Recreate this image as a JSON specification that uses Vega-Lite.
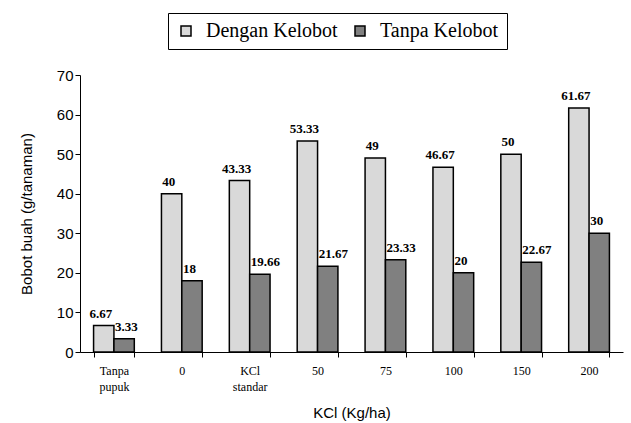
{
  "$schema": "https://vega.github.io/schema/vega-lite/v6.json",
  "width": 543,
  "height": 277,
  "autosize": {"type": "none"},
  "padding": {"left": 80, "top": 75, "right": 8, "bottom": 71},
  "background": "white",
  "config": {"view": {"stroke": null}},
  "data": {
    "values": [
      {"kcl": "Tanpa pupuk", "seri": "Dengan Kelobot", "bobot": 6.67, "label": "6.67"},
      {"kcl": "Tanpa pupuk", "seri": "Tanpa Kelobot", "bobot": 3.33, "label": "3.33"},
      {"kcl": "0", "seri": "Dengan Kelobot", "bobot": 40, "label": "40"},
      {"kcl": "0", "seri": "Tanpa Kelobot", "bobot": 18, "label": "18"},
      {"kcl": "KCl standar", "seri": "Dengan Kelobot", "bobot": 43.33, "label": "43.33"},
      {"kcl": "KCl standar", "seri": "Tanpa Kelobot", "bobot": 19.66, "label": "19.66"},
      {"kcl": "50", "seri": "Dengan Kelobot", "bobot": 53.33, "label": "53.33"},
      {"kcl": "50", "seri": "Tanpa Kelobot", "bobot": 21.67, "label": "21.67"},
      {"kcl": "75", "seri": "Dengan Kelobot", "bobot": 49, "label": "49"},
      {"kcl": "75", "seri": "Tanpa Kelobot", "bobot": 23.33, "label": "23.33"},
      {"kcl": "100", "seri": "Dengan Kelobot", "bobot": 46.67, "label": "46.67"},
      {"kcl": "100", "seri": "Tanpa Kelobot", "bobot": 20, "label": "20"},
      {"kcl": "150", "seri": "Dengan Kelobot", "bobot": 50, "label": "50"},
      {"kcl": "150", "seri": "Tanpa Kelobot", "bobot": 22.67, "label": "22.67"},
      {"kcl": "200", "seri": "Dengan Kelobot", "bobot": 61.67, "label": "61.67"},
      {"kcl": "200", "seri": "Tanpa Kelobot", "bobot": 30, "label": "30"}
    ]
  },
  "encoding": {
    "x": {
      "field": "kcl",
      "type": "nominal",
      "sort": null,
      "scale": {"paddingInner": 0.4, "paddingOuter": 0.2},
      "axis": {
        "title": "KCl (Kg/ha)",
        "titleFont": "Liberation Sans",
        "titleFontSize": 15,
        "titleFontWeight": "normal",
        "titleColor": "black",
        "titlePadding": 13,
        "labelAngle": 0,
        "labelFont": "Times New Roman, Liberation Serif, serif",
        "labelFontSize": 12,
        "labelColor": "black",
        "labelPadding": 8,
        "labelLineHeight": 16,
        "labelExpr": "isValid(datum.value) ? split(datum.value, ' ') : ''",
        "tickBand": "extent",
        "tickSize": 5,
        "tickColor": "black",
        "domainColor": "black",
        "grid": false
      }
    },
    "xOffset": {"field": "seri", "type": "nominal", "scale": {"paddingInner": 0, "paddingOuter": 0}},
    "y": {
      "field": "bobot",
      "type": "quantitative",
      "scale": {"domain": [0, 70], "nice": false},
      "axis": {
        "title": "Bobot buah (g/tanaman)",
        "titleFont": "Liberation Sans",
        "titleFontSize": 15,
        "titleFontWeight": "normal",
        "titleColor": "black",
        "titlePadding": 22,
        "values": [0, 10, 20, 30, 40, 50, 60, 70],
        "labelFont": "Liberation Sans",
        "labelFontSize": 15,
        "labelColor": "black",
        "labelPadding": 2,
        "tickSize": 5,
        "tickColor": "black",
        "domainColor": "black",
        "grid": false
      }
    }
  },
  "layer": [
    {
      "mark": {"type": "bar", "stroke": "black", "strokeWidth": 1.5},
      "encoding": {
        "fill": {
          "field": "seri",
          "type": "nominal",
          "scale": {"domain": ["Dengan Kelobot", "Tanpa Kelobot"], "range": ["#d9d9d9", "#808080"]},
          "legend": {
            "title": null,
            "orient": "none",
            "direction": "horizontal",
            "legendX": 88,
            "legendY": -62,
            "strokeColor": "black",
            "padding": 8,
            "symbolType": "square",
            "symbolSize": 100,
            "symbolStrokeColor": "black",
            "symbolStrokeWidth": 1.5,
            "labelFont": "Times New Roman, Liberation Serif, serif",
            "labelFontSize": 20,
            "labelColor": "black",
            "labelOffset": 10,
            "columnPadding": 12
          }
        }
      }
    },
    {
      "transform": [{"filter": "datum.seri == 'Dengan Kelobot'"}],
      "mark": {"type": "text", "baseline": "bottom", "align": "center", "dy": -5, "dx": -3, "font": "Times New Roman, Liberation Serif, serif", "fontSize": 13, "fontWeight": "bold", "color": "black"},
      "encoding": {"text": {"field": "label"}}
    },
    {
      "transform": [{"filter": "datum.seri == 'Tanpa Kelobot'"}],
      "mark": {"type": "text", "baseline": "bottom", "align": "left", "dy": -5, "dx": -9, "font": "Times New Roman, Liberation Serif, serif", "fontSize": 13, "fontWeight": "bold", "color": "black"},
      "encoding": {"text": {"field": "label"}}
    }
  ]
}
